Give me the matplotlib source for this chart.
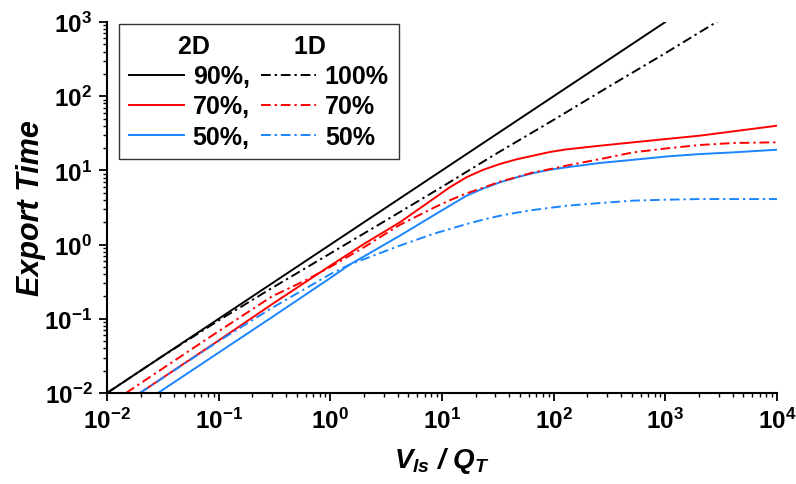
import matplotlib.pyplot as plt
from matplotlib.ticker import FixedLocator, FixedFormatter

plt.rcParams['font.family'] = ['Liberation Sans', 'DejaVu Sans']
plt.rcParams['font.weight'] = 'bold'
plt.rcParams['mathtext.fontset'] = 'custom'
plt.rcParams['mathtext.rm'] = 'Liberation Sans:bold'
plt.rcParams['mathtext.bf'] = 'Liberation Sans:bold'
plt.rcParams['mathtext.it'] = 'Liberation Sans:bold:italic'

# 2D 90%
x_2d90 = [0.01, 1000]
y_2d90 = [0.01, 1000]

# 1D 100%
x_1d100 = [0.01, 0.03, 0.1, 0.3, 1, 3, 10, 30, 100, 300, 1000, 3000]
y_1d100 = [0.01, 0.03, 0.095, 0.26, 0.76, 2.03, 6.0, 16.5, 48, 130, 380, 1040]

# 2D 70%
x_2d70 = [0.0197, 0.1, 0.3, 1, 2, 4.2, 8.3, 11.7, 16.6, 23.4, 33, 46.5, 65.6, 92.5, 130, 259, 515, 1025, 2040, 10000]
y_2d70 = [0.01, 0.051, 0.157, 0.52, 1.02, 2.0, 4.1, 5.9, 8.1, 10.2, 12.2, 14.1, 15.8, 17.7, 19.2, 21.5, 23.9, 26.5, 29.4, 40]

# 1D 70%
x_1d70 = [0.0148, 0.05, 0.1, 0.3, 0.6, 1, 2, 4.2, 8.3, 11.7, 16.6, 23.4, 33, 46.5, 65.6, 92.5, 130, 260, 515, 1025, 2040, 4050, 10000]
y_1d70 = [0.01, 0.034, 0.068, 0.2, 0.33, 0.5, 0.92, 1.85, 3.1, 3.95, 4.9, 5.85, 7.05, 8.1, 9.4, 10.4, 11.6, 14.2, 17.5, 19.8, 22, 23.4, 23.9]

# 2D 50%
x_2d50 = [0.0286, 0.1, 0.3, 1, 1.5, 4.2, 8.3, 16.6, 23.4, 33, 46.5, 65.6, 92.5, 130, 260, 515, 1025, 2040, 4050, 10000]
y_2d50 = [0.01, 0.035, 0.105, 0.355, 0.54, 1.32, 2.45, 4.56, 5.7, 6.9, 8.05, 9.2, 10.2, 11.0, 12.6, 13.9, 15.4, 16.6, 17.5, 19.0]

# 1D 50%
x_1d50 = [0.0197, 0.1, 0.3, 1, 1.5, 4.2, 8.3, 11.7, 16.6, 23.4, 33, 46.5, 65.6, 130, 260, 515, 1025, 2040, 10000]
y_1d50 = [0.01, 0.05, 0.14, 0.4, 0.54, 0.97, 1.39, 1.62, 1.89, 2.17, 2.45, 2.69, 2.93, 3.34, 3.63, 3.91, 4.03, 4.11, 4.11]

x_ticks = [1e-2, 1e-1, 1e0, 1e1, 1e2, 1e3, 1e4]
x_ticklabels = [r'$10^{-2}$', r'$10^{-1}$', r'$10^{0}$', r'$10^{1}$', r'$10^{2}$', r'$10^{3}$', r'$10^{4}$']
y_ticks = [1e-2, 1e-1, 1e0, 1e1, 1e2, 1e3]
y_ticklabels = [r'$10^{-2}$', r'$10^{-1}$', r'$10^{0}$', r'$10^{1}$', r'$10^{2}$', r'$10^{3}$']

red = '#ff0000'
blue = '#1a85ff'
dd = (0, (5, 2, 1.2, 2))

fig = plt.figure(figsize=(7.96, 4.85), dpi=100)
ax = fig.add_axes([107 / 796, 1 - 394 / 485, (777 - 107) / 796, (394 - 23) / 485])

lw = 1.4
h1, = ax.plot(x_2d90, y_2d90, color='black', lw=lw)
h2, = ax.plot(x_2d70, y_2d70, color=red, lw=lw)
h3, = ax.plot(x_2d50, y_2d50, color=blue, lw=lw)
h4, = ax.plot(x_1d100, y_1d100, color='black', lw=lw, linestyle=dd)
h5, = ax.plot(x_1d70, y_1d70, color=red, lw=lw, linestyle=dd)
h6, = ax.plot(x_1d50, y_1d50, color=blue, lw=lw, linestyle=dd)

ax.set_xscale('log')
ax.set_yscale('log')
ax.set_xlim(1e-2, 1e4)
ax.set_ylim(1e-2, 1e3)

ax.xaxis.set_major_locator(FixedLocator(x_ticks))
ax.xaxis.set_major_formatter(FixedFormatter(x_ticklabels))
ax.yaxis.set_major_locator(FixedLocator(y_ticks))
ax.yaxis.set_major_formatter(FixedFormatter(y_ticklabels))

ax.spines['top'].set_visible(False)
ax.spines['right'].set_visible(False)
ax.spines['left'].set_linewidth(1.5)
ax.spines['bottom'].set_linewidth(1.5)
ax.tick_params(which='major', direction='out', length=5.5, width=1.3, labelsize=17.5, pad=5)
ax.tick_params(which='minor', direction='out', length=3, width=1.0)

ax.set_xlabel(r'$V_{ls}$ / $Q_T$', fontsize=20, fontweight='bold', style='italic', labelpad=9)
ax.set_ylabel('Export Time', fontsize=22, fontweight='bold', style='italic', labelpad=-1)

leg = ax.legend([h1, h2, h3, h4, h5, h6],
                ['90%,', '70%,', '50%,', '100%', '70%', '50%'],
                ncol=2, loc='upper left', bbox_to_anchor=(12 / 670, 1 - 2 / 371),
                borderaxespad=0,
                fontsize=18, frameon=True, fancybox=False, edgecolor='black',
                handlelength=2.2, handletextpad=0.35, columnspacing=0.45,
                labelspacing=0.25, borderpad=0.4,
                title='2D            1D  ', title_fontsize=18)
leg.get_frame().set_linewidth(1.0)
leg.get_title().set_fontweight('bold')

fig.savefig('out.png', dpi=100)
